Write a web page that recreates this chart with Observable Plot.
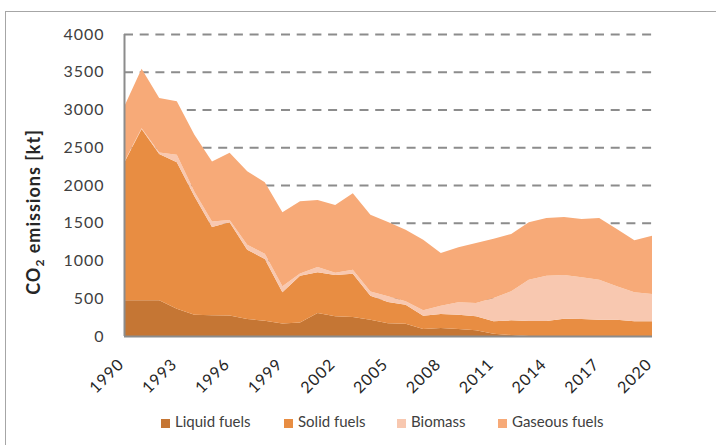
<!DOCTYPE html>
<html>
<head>
<meta charset="utf-8">
<script src="https://cdn.jsdelivr.net/npm/d3@7"></script>
<script src="https://cdn.jsdelivr.net/npm/@observablehq/plot@0.6"></script>
<style>
  html, body { margin: 0; padding: 0; background: #fff; }
  #wrap { position: relative; width: 716px; height: 445px; overflow: hidden; font-family: Lato, "Open Sans", sans-serif; }
  #frame { position: absolute; left: 5px; top: 11px; width: 800px; height: 500px; border: 1.5px solid #a6a6a6; box-sizing: border-box; }
  #chart { position: absolute; left: 0; top: 0; }
  #legend { position: absolute; left: 0; top: 410px; width: 716px; height: 24px; font-size: 15px; color: #404040; }
  .item { position: absolute; top: 0; white-space: nowrap; line-height: 22px; }
  .sw { display: inline-block; width: 9px; height: 9px; margin-right: 5px; vertical-align: -1px; }
  #chart svg text { letter-spacing: 1px; }
</style>
</head>
<body>
<div id="wrap">
  <div id="frame"></div>
  <div id="chart"></div>
  <div id="legend"></div>
</div>
<script>
const years = d3.range(1990, 2021);
const seriesNames = ["Liquid fuels", "Solid fuels", "Biomass", "Gaseous fuels"];
const seriesColors = ["#C57634", "#E88D42", "#F8C8B0", "#F7AA78"];

const liquid = [472, 472, 472, 360, 283, 275, 270, 225, 203, 165, 180, 305, 260, 252, 216, 170,
                163, 93, 106, 93, 75, 31, 13, 0, 0, 0, 0, 0, 0, 0, 0];
const solid = [1819, 2270, 1939, 1940, 1567, 1169, 1235, 918, 817, 413, 619, 538, 548, 574, 318, 280,
               252, 176, 185, 190, 185, 163, 194, 199, 199, 230, 225, 216, 216, 194, 194];
const biomass = [10, 10, 20, 100, 60, 74, 30, 66, 70, 80, 30, 70, 30, 50, 55, 75,
                 44, 71, 111, 163, 177, 309, 385, 547, 600, 578, 552, 530, 442, 384, 362];
const gaseous = [732, 789, 721, 708, 755, 794, 891, 973, 948, 980, 955, 888, 897, 1014, 1018, 985,
                 949, 936, 697, 728, 795, 786, 759, 760, 764, 768, 773, 817, 759, 689, 773];

const yTicks = [0, 500, 1000, 1500, 2000, 2500, 3000, 3500, 4000];
const xTicks = [1990, 1993, 1996, 1999, 2002, 2005, 2008, 2011, 2014, 2017, 2020];

const seriesValues = [liquid, solid, biomass, gaseous];
const data = [];
seriesNames.forEach((name, i) => {
  years.forEach((yr, j) => data.push({year: yr, series: name, value: seriesValues[i][j]}));
});

const chart = Plot.plot({
  width: 716,
  height: 395,
  marginLeft: 124,
  marginRight: 64,
  marginTop: 34,
  marginBottom: 59,
  style: {fontFamily: "Lato, 'Open Sans', sans-serif", fontSize: "16px", color: "#404040", background: "transparent", overflow: "visible"},
  x: {domain: [1990, 2020], axis: null},
  y: {domain: [0, 4000]},
  color: {domain: seriesNames, range: seriesColors},
  marks: [
    Plot.gridY(yTicks.filter(d => d > 0), {stroke: "#8c8c8c", strokeOpacity: 1, strokeWidth: 2, strokeDasharray: "9,6.7"}),
    Plot.areaY(data, {x: "year", y: "value", fill: "series", order: seriesNames}),
    Plot.ruleY([0], {stroke: "#8c8c8c", strokeWidth: 2}),
    Plot.ruleX([1990], {stroke: "#8c8c8c", strokeWidth: 2}),
    Plot.axisY({ticks: yTicks, tickSize: 0, tickPadding: 20, label: null, tickFormat: d => String(d)}),
    Plot.text(xTicks, {x: d => d, y: 0, text: d => String(d), rotate: -45, textAnchor: "end", lineAnchor: "middle",
                       dx: -3, dy: 25, fill: "#262626", fontSize: 16})
  ]
});
document.getElementById("chart").appendChild(chart);

// y-axis title with subscript
const svg = d3.select(chart);
const t = svg.append("text")
  .attr("transform", "translate(40,212) rotate(-90)")
  .attr("text-anchor", "middle")
  .attr("font-weight", "bold")
  .attr("font-size", 18)
  .attr("fill", "#262626");
t.append("tspan").text("CO");
t.append("tspan").attr("font-size", 12).attr("dy", 4).text("2");
t.append("tspan").attr("dy", -4).text(" emissions [kt]");

// legend
const legendX = [161, 284, 397, 498];
const legend = d3.select("#legend");
seriesNames.forEach((name, i) => {
  const it = legend.append("div").attr("class", "item").style("left", legendX[i] + "px");
  it.append("span").attr("class", "sw").style("background", seriesColors[i]);
  it.append("span").text(name);
});
</script>
</body>
</html>
